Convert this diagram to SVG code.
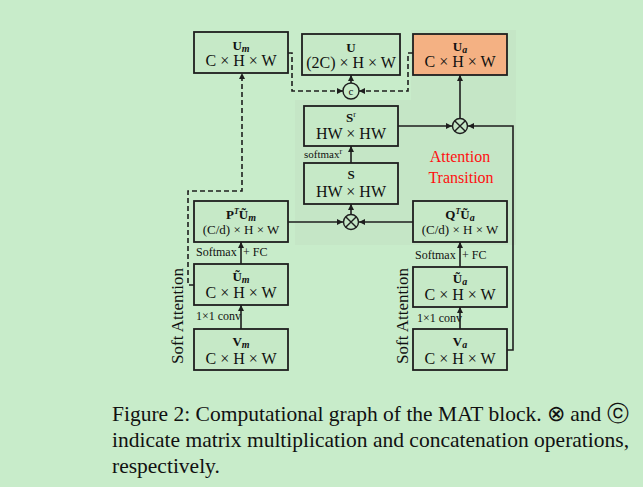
<svg xmlns="http://www.w3.org/2000/svg" width="643" height="487" viewBox="0 0 643 487">
<defs>
<style>
.bx{fill:#c6e9c7;stroke:#1e1e1e;stroke-width:1.8}
.t1{font-family:"Liberation Serif",serif;font-weight:bold;font-size:13px;fill:#111;text-anchor:middle}
.t2{font-family:"Liberation Serif",serif;font-size:16px;fill:#111;text-anchor:middle}
.t3{font-family:"Liberation Serif",serif;font-size:13px;fill:#111;text-anchor:middle}
.lb{font-family:"Liberation Serif",serif;font-size:12px;fill:#111}
.ln{fill:none;stroke:#1e1e1e;stroke-width:1.6}
.ds{fill:none;stroke:#1e1e1e;stroke-width:1.6;stroke-dasharray:5,3}
.op{fill:none;stroke:#1e1e1e;stroke-width:1.4}
.cap{font-family:"Liberation Serif",serif;font-size:21.5px;fill:#111}
.sa{font-family:"Liberation Serif",serif;font-size:17px;fill:#111;text-anchor:middle}
.at{font-family:"Liberation Serif",serif;font-size:16px;fill:#ff1010;text-anchor:middle}
</style>
<marker id="ah" viewBox="0 0 6 6" refX="6" refY="3" markerWidth="6" markerHeight="6" markerUnits="userSpaceOnUse" orient="auto">
<path d="M0,0 L6,3 L0,6 z" fill="#1e1e1e"/>
</marker>
</defs>
<rect width="643" height="487" fill="#c8ecca"/>
<path d="M411,30 H516 V245 H295 V100 H411 Z" fill="#c5e6c6"/>

<g id="connectors">
<line class="ln" x1="241" y1="329" x2="241" y2="305" marker-end="url(#ah)"/>
<line class="ln" x1="241" y1="264" x2="241" y2="242" marker-end="url(#ah)"/>
<line class="ln" x1="460" y1="329" x2="460" y2="307" marker-end="url(#ah)"/>
<line class="ln" x1="460" y1="267" x2="460" y2="242" marker-end="url(#ah)"/>
<line class="ln" x1="288" y1="222" x2="343" y2="222" marker-end="url(#ah)"/>
<line class="ln" x1="413" y1="222" x2="359" y2="222" marker-end="url(#ah)"/>
<line class="ln" x1="351" y1="214" x2="351" y2="204" marker-end="url(#ah)"/>
<line class="ln" x1="351" y1="163" x2="351" y2="146" marker-end="url(#ah)"/>
<line class="ln" x1="398" y1="126" x2="452" y2="126" marker-end="url(#ah)"/>
<path class="ln" d="M507,350 H513 V126 H468" marker-end="url(#ah)"/>
<line class="ln" x1="460" y1="118" x2="460" y2="75" marker-end="url(#ah)"/>
<line class="ln" x1="351" y1="83" x2="351" y2="75" marker-end="url(#ah)"/>
<path class="ds" d="M288,53 H292 V91 H343" marker-end="url(#ah)"/>
<path class="ds" d="M413,53 H408 V91 H359" marker-end="url(#ah)"/>
<path class="ds" d="M194,285 H188 V191 H242 V73" marker-end="url(#ah)"/>
</g>

<g id="concat">
<circle class="op" cx="351" cy="91" r="8" fill="#c8ecca"/>
<text x="351" y="95" class="t3" style="font-size:11px">c</text>
</g>
<g id="mul-top">
<circle class="op" cx="460" cy="126" r="7.5" fill="#c5e6c6"/>
<path class="op" d="M454.7,120.7 L465.3,131.3 M465.3,120.7 L454.7,131.3"/>
</g>
<g id="mul-mid">
<circle class="op" cx="351" cy="222" r="7.5" fill="#c5e6c6"/>
<path class="op" d="M345.7,216.7 L356.3,227.3 M356.3,216.7 L345.7,227.3"/>
</g>

<g id="Um">
<rect class="bx" x="194" y="32" width="94" height="41"/>
<text x="241" y="50" class="t1">U<tspan font-style="italic" font-size="10" dy="1.5">m</tspan></text>
<text x="241" y="66" class="t2">C × H × W</text>
</g>
<g id="U">
<rect class="bx" x="302" y="34" width="98" height="41"/>
<text x="351" y="52" class="t1">U</text>
<text x="351" y="68" class="t2">(2C) × H × W</text>
</g>
<g id="Ua">
<rect x="413" y="34" width="94" height="41" fill="#f4b183" stroke="#1e1e1e" stroke-width="1.8"/>
<text x="460" y="51" class="t1">U<tspan font-style="italic" font-size="10" dy="1.5">a</tspan></text>
<text x="460" y="67" class="t2">C × H × W</text>
</g>
<g id="Sr">
<rect class="bx" x="304" y="106" width="94" height="40"/>
<text x="351" y="122" class="t1">S<tspan font-size="8" font-weight="normal" dy="-5">r</tspan></text>
<text x="351" y="139" class="t2">HW × HW</text>
</g>
<g id="S">
<rect class="bx" x="304" y="163" width="94" height="41"/>
<text x="351" y="179" class="t1">S</text>
<text x="351" y="197" class="t2">HW × HW</text>
</g>
<g id="PTUm">
<rect class="bx" x="194" y="201" width="94" height="41"/>
<text x="241" y="219" class="t1">P<tspan font-style="italic" font-size="8" dy="-5">T</tspan><tspan dy="5">Ũ</tspan><tspan font-style="italic" font-size="10" dy="1.5">m</tspan></text>
<text x="241" y="234" class="t3">(C/d) × H × W</text>
</g>
<g id="QTUa">
<rect class="bx" x="413" y="201" width="94" height="41"/>
<text x="460" y="219" class="t1">Q<tspan font-style="italic" font-size="8" dy="-5">T</tspan><tspan dy="5">Ũ</tspan><tspan font-style="italic" font-size="10" dy="1.5">a</tspan></text>
<text x="460" y="234" class="t3">(C/d) × H × W</text>
</g>
<g id="Utm">
<rect class="bx" x="194" y="264" width="94" height="41"/>
<text x="241" y="281" class="t1">Ũ<tspan font-style="italic" font-size="10" dy="1.5">m</tspan></text>
<text x="241" y="298" class="t2">C × H × W</text>
</g>
<g id="Uta">
<rect class="bx" x="413" y="267" width="94" height="40"/>
<text x="460" y="283" class="t1">Ũ<tspan font-style="italic" font-size="10" dy="1.5">a</tspan></text>
<text x="460" y="300" class="t2">C × H × W</text>
</g>
<g id="Vm">
<rect class="bx" x="194" y="329" width="94" height="41"/>
<text x="241" y="346" class="t1">V<tspan font-style="italic" font-size="10" dy="1.5">m</tspan></text>
<text x="241" y="364" class="t2">C × H × W</text>
</g>
<g id="Va">
<rect class="bx" x="413" y="329" width="94" height="41"/>
<text x="460" y="346" class="t1">V<tspan font-style="italic" font-size="10" dy="1.5">a</tspan></text>
<text x="460" y="364" class="t2">C × H × W</text>
</g>

<g id="labels">
<text x="196" y="256" class="lb">Softmax</text>
<text x="243" y="256" class="lb">+ FC</text>
<text x="415" y="259" class="lb">Softmax</text>
<text x="462" y="259" class="lb">+ FC</text>
<text x="196" y="320" class="lb">1×1 conv</text>
<text x="417" y="322" class="lb">1×1 conv</text>
<text x="304" y="158" class="lb" style="font-size:11px">softmax<tspan font-size="8" dy="-4">r</tspan></text>
<text x="460" y="162" class="at">Attention</text>
<text x="461" y="183" class="at">Transition</text>
<text class="sa" transform="translate(183,316) rotate(-90)">Soft Attention</text>
<text class="sa" transform="translate(408,316) rotate(-90)">Soft Attention</text>
</g>

<g id="caption">
<text x="112" y="421" class="cap">Figure 2: Computational graph of the MAT block. ⊗ and ⓒ</text>
<text x="112" y="447" class="cap">indicate matrix multiplication and concatenation operations,</text>
<text x="112" y="473" class="cap">respectively.</text>
</g>
</svg>
